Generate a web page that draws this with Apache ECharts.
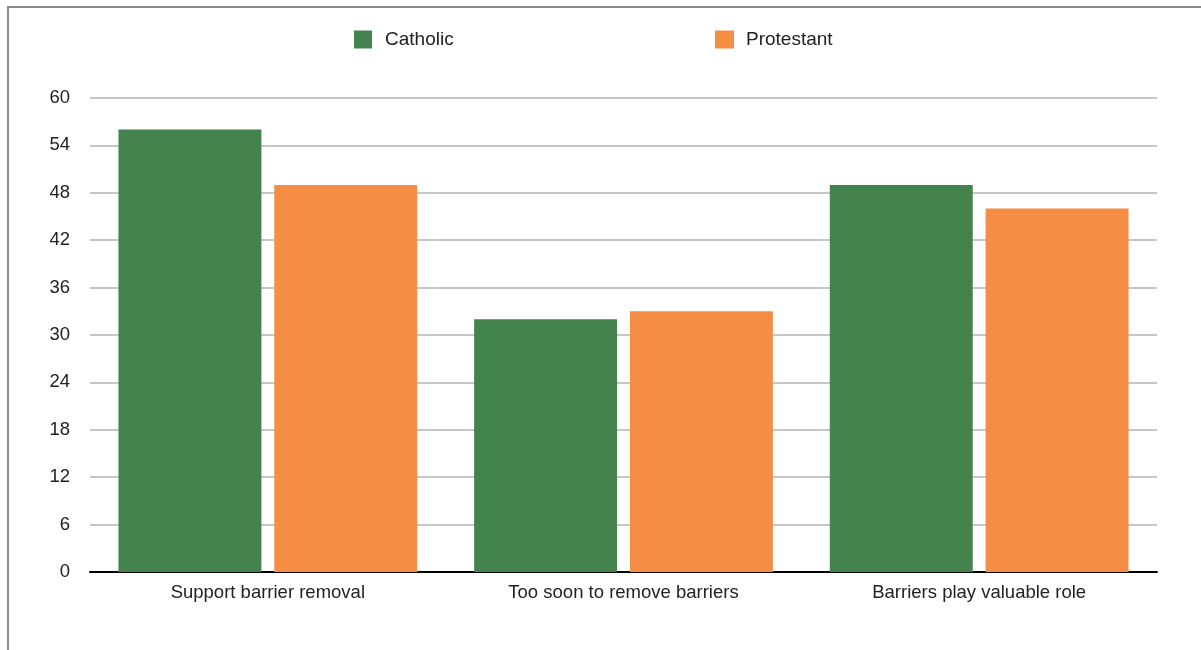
<!DOCTYPE html>
<html>
<head>
<meta charset="utf-8">
<script src="https://cdn.jsdelivr.net/npm/echarts@6/dist/echarts.min.js"></script>
<style>
html,body{margin:0;padding:0;background:#fff;}
#frame{position:absolute;left:7px;top:6px;width:1300px;height:700px;border-left:2px solid #8a8a8a;border-top:2px solid #8a8a8a;}
#chart{position:absolute;left:0;top:0;width:1201px;height:650px;}
</style>
</head>
<body>
<div id="frame"></div>
<div id="chart"></div>
<script>
const categories = ["Support barrier removal", "Too soon to remove barriers", "Barriers play valuable role"];
const catholic = [56, 32, 49];
const protestant = [49, 33, 46];
const seriesNames = ["Catholic", "Protestant"];

const chart = echarts.init(document.getElementById('chart'));
const font = 'Liberation Sans, Arial, Helvetica, sans-serif';
chart.setOption({
  animation: false,
  textStyle: {fontFamily: font},
  legend: [
    {data: [seriesNames[0]], left: 354, top: 30, itemWidth: 18, itemHeight: 18, itemGap: 0,
     textStyle: {fontSize: 19, color: '#222', fontFamily: font, padding: [2,0,0,8]}, icon: 'rect', padding: 0},
    {data: [seriesNames[1]], left: 715, top: 30, itemWidth: 19, itemHeight: 18, itemGap: 0,
     textStyle: {fontSize: 19, color: '#222', fontFamily: font, padding: [2,0,0,7]}, icon: 'rect', padding: 0}
  ],
  grid: {left: 90, right: 44, top: 98, bottom: 78, containLabel: false},
  xAxis: {
    type: 'category',
    data: categories,
    axisLine: {lineStyle: {color: '#000', width: 2}},
    axisTick: {show: false},
    axisLabel: {fontSize: 18.5, color: '#222', margin: 11, fontFamily: font}
  },
  yAxis: {
    type: 'value',
    min: 0, max: 60, interval: 6,
    axisLine: {show: false},
    axisTick: {show: false},
    axisLabel: {fontSize: 18.5, color: '#222', margin: 20, fontFamily: font, padding: [2,0,0,0]},
    splitLine: {lineStyle: {color: '#b5b5b5', width: 1.5}}
  },
  series: [
    {name: seriesNames[0], type: 'bar', data: catholic, barGap: '9%', barCategoryGap: '16%',
     itemStyle: {color: '#44844C'}},
    {name: seriesNames[1], type: 'bar', data: protestant,
     itemStyle: {color: '#F68D45'}}
  ]
});
</script>
</body>
</html>
